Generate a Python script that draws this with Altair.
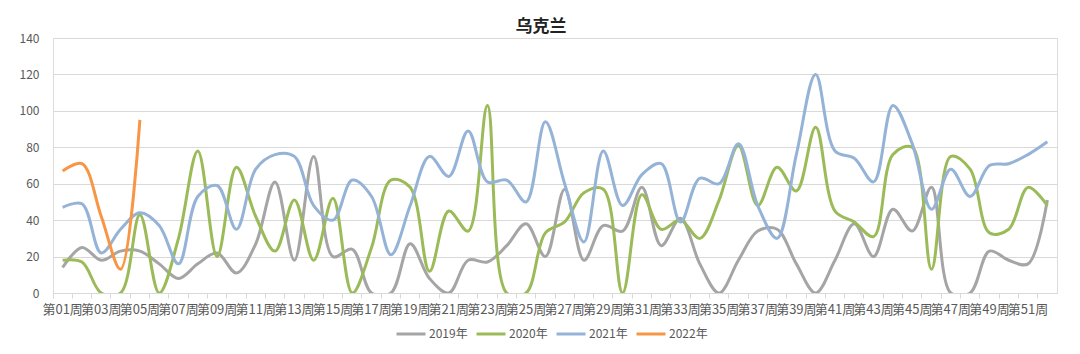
import altair as alt
import pandas as pd

weeks = [f"第{i:02d}周" for i in range(1, 53)]
series_names = ["2019年", "2020年", "2021年", "2022年"]
colors = ["#A5A5A5", "#9BBB59", "#95B3D7", "#F79646"]

v2019 = [14, 25, 18, 23, 23, 16, 8, 16, 22, 11, 27, 61, 18, 75, 20, 24, 0, 0, 27, 8,
         0, 18, 17, 26, 38, 20, 57, 18, 37, 34, 58, 26, 41, 16, 0, 18, 34, 35, 16, 0,
         18, 38, 20, 46, 34, 58, 0, 0, 23, 18, 16, 51]
v2020 = [18, 17, 0, 0, 43, 0, 30, 78, 20, 69, 42, 23, 51, 18, 52, 0, 25, 62, 58, 12,
         45, 34, 103, 0, 0, 33, 39, 55, 57, 0, 54, 35, 40, 30, 51, 81, 48, 69, 56, 91,
         45, 39, 31, 76, 80, 13, 75, 68, 33, 35, 58, 48]
v2021 = [47, 49, 22, 35, 44, 37, 16, 53, 59, 35, 68, 76, 75, 48, 40, 62, 53, 21, 48, 75,
         64, 89, 61, 62, 50, 94, 60, 28, 78, 48, 65, 71, 39, 63, 60, 82, 48, 30, 76, 120,
         78, 74, 61, 103, 82, 46, 68, 53, 70, 71, 76, 83]
v2022 = [67, 71, 42, 13, 95]

rows = []
for name, vals in zip(series_names, [v2019, v2020, v2021, v2022]):
    for i, v in enumerate(vals):
        rows.append({"week": weeks[i], "year": name, "value": v, "order": i})
df = pd.DataFrame(rows)

font = "Noto Sans CJK SC"

chart = alt.Chart(df).mark_line(
    interpolate="catmull-rom", strokeWidth=3, clip=True
).encode(
    x=alt.X("week:O", sort=weeks, bandPosition=0.5,
            scale=alt.Scale(type="band", domain=weeks, paddingInner=0, paddingOuter=0),
            axis=alt.Axis(title=None, labelAngle=0, labelFontSize=13, labelColor="#595959",
                          labelFont=font, labelOverlap=False, labelPadding=5,
                          tickSize=5, tickColor="#D9D9D9", domainColor="#D9D9D9",
                          bandPosition=0, grid=False,
                          labelExpr="parseInt(substring(datum.value,1,3)) % 2 == 1 ? datum.value : ''")),
    y=alt.Y("value:Q", scale=alt.Scale(domain=[0, 140], nice=False),
            axis=alt.Axis(title=None, values=list(range(0, 141, 20)), ticks=False, domain=False,
                          labelFontSize=12, labelColor="#595959", labelFont=font,
                          labelPadding=14, gridColor="#D9D9D9", gridWidth=1)),
    color=alt.Color("year:N", sort=series_names,
                    scale=alt.Scale(domain=series_names, range=colors),
                    legend=alt.Legend(title=None, orient="none", direction="horizontal",
                                      legendX=342, legendY=280,
                                      symbolType="stroke", symbolSize=840, symbolStrokeWidth=3,
                                      labelFontSize=12, labelColor="#595959", labelFont=font,
                                      columnPadding=2, labelOffset=2)),
    order="order:Q",
).properties(
    width=1004, height=255,
    title=alt.Title("乌克兰", fontSize=17, font=font, fontWeight="bold", color="#222222",
                    anchor="middle", offset=3, dx=-14, dy=7),
    autosize=alt.AutoSizeParams(type="none"),
    padding={"left": 53, "top": 38, "right": 23, "bottom": 61},
).configure_view(stroke=None).configure(background="white")

chart.save("out.html", embed_options={"renderer": "svg", "actions": False})
